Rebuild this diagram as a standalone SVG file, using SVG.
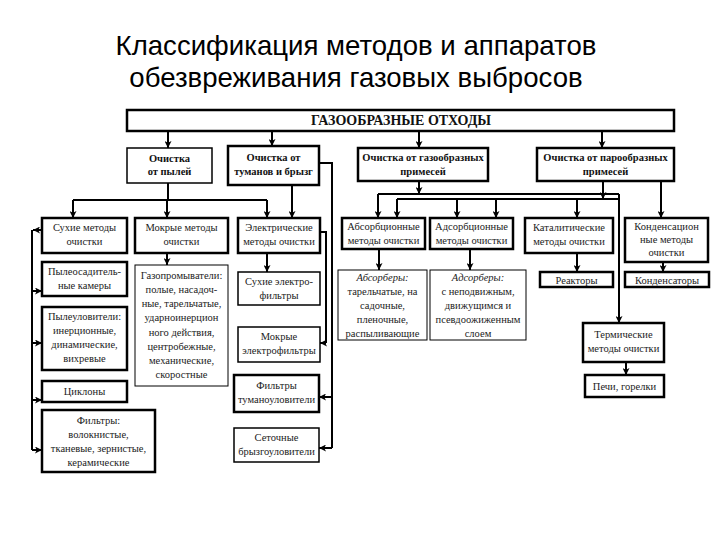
<svg xmlns="http://www.w3.org/2000/svg" width="720" height="540" viewBox="0 0 720 540">
<defs>
<marker id="ah" viewBox="0 0 8 8" refX="8" refY="4" markerWidth="7" markerHeight="7" markerUnits="userSpaceOnUse" orient="auto">
<path d="M0,0 L8,4 L0,8 L2,4 z" fill="#000"/>
</marker>
<style>
.title{font-family:"Liberation Sans",Arial,sans-serif;font-size:27.6px;fill:#000;text-anchor:middle}
.bx{fill:#fff;stroke:#000;stroke-width:2.5}
.bn{fill:#fff;stroke:#000;stroke-width:1.5}
.bt{fill:#fff;stroke:#000;stroke-width:1}
.t{font-family:"Liberation Serif","Times New Roman",serif;font-size:10.5px;fill:#222;text-anchor:middle}
.tb{font-family:"Liberation Serif","Times New Roman",serif;font-size:10.5px;font-weight:bold;fill:#111;text-anchor:middle}
.th{font-family:"Liberation Serif","Times New Roman",serif;font-size:14px;font-weight:bold;fill:#111;text-anchor:middle}
.it{font-style:italic}
.c{fill:none;stroke:#000;stroke-width:2}
.a{fill:none;stroke:#000;stroke-width:2;marker-end:url(#ah)}
</style>
</defs>
<rect width="720" height="540" fill="#fff"/>
<text class="title" x="356" y="55">Классификация методов и аппаратов</text>
<text class="title" x="356" y="87">обезвреживания газовых выбросов</text>

<g id="connectors">
<path class="a" d="M168,131 V148"/>
<path class="a" d="M272,131 V146"/>
<path class="a" d="M419,131 V148"/>
<path class="a" d="M602,131 V148"/>
<path class="c" d="M168,183 V200"/>
<path class="c" d="M73,200 H267" stroke-width="3"/>
<path class="a" d="M73,200 V218"/>
<path class="a" d="M167,200 V218"/>
<path class="a" d="M267,200 V218"/>
<path class="a" d="M292,185 V218"/>
<path class="c" d="M319,163 H332 V448"/>
<path class="a" d="M332,397 H319"/>
<path class="a" d="M332,448 H319"/>
<path class="c" d="M320,232 H326 V343"/>
<path class="a" d="M326,343 H320"/>
<path class="a" d="M167,253 V265"/>
<path class="a" d="M267,253 V272"/>
<path class="a" d="M42,230 H33"/>
<path class="c" d="M32,230 V450"/>
<path class="a" d="M32,291 H42"/>
<path class="a" d="M32,343 H42"/>
<path class="a" d="M32,400 H42"/>
<path class="a" d="M32,450 H42"/>
<path class="a" d="M419,181 V194"/>
<path class="c" d="M378,194 H619"/>
<path class="c" d="M397,199 H619"/>
<path class="a" d="M603,181 V199"/>
<path class="a" d="M619,194 V323"/>
<path class="a" d="M378,194 V218"/>
<path class="a" d="M397,199 V218"/>
<path class="a" d="M457,199 V218"/>
<path class="a" d="M496,199 V218"/>
<path class="a" d="M577,199 V218"/>
<path class="a" d="M661,181 V218"/>
<path class="a" d="M379,249 V270"/>
<path class="a" d="M470,249 V270"/>
<path class="a" d="M577,253 V272"/>
<path class="a" d="M663,262 V272"/>
<path class="a" d="M626,362 V375"/>
</g>

<g id="n-top"><rect class="bx" x="127" y="110" width="547" height="21" stroke-width="2"/><text class="th" x="401" y="125">ГАЗООБРАЗНЫЕ ОТХОДЫ</text></g>

<g id="n-dust"><rect class="bn" x="127" y="148" width="85" height="35"/><text class="tb" x="169.5" y="162">Очистка</text><text class="tb" x="169.5" y="175">от пылей</text></g>
<g id="n-fog"><rect class="bx" x="228" y="146" width="91" height="39"/><text class="tb" x="273.5" y="161">Очистка от</text><text class="tb" x="273.5" y="175">туманов и брызг</text></g>
<g id="n-gas"><rect class="bx" x="358" y="148" width="130" height="33"/><text class="tb" x="423" y="161">Очистка от газообразных</text><text class="tb" x="423" y="175">примесей</text></g>
<g id="n-vapor"><rect class="bx" x="537" y="148" width="137" height="33"/><text class="tb" x="605.5" y="161">Очистка от парообразных</text><text class="tb" x="605.5" y="175">примесей</text></g>

<g id="n-dry"><rect class="bx" x="42" y="218" width="85" height="35"/><text class="t" x="84.5" y="231">Сухие методы</text><text class="t" x="84.5" y="245">очистки</text></g>
<g id="n-wet"><rect class="bx" x="135" y="218" width="93" height="35"/><text class="t" x="181.5" y="231">Мокрые методы</text><text class="t" x="181.5" y="245">очистки</text></g>
<g id="n-el"><rect class="bx" x="238" y="218" width="82" height="35"/><text class="t" x="279" y="231">Электрические</text><text class="t" x="279" y="245">методы очистки</text></g>

<g id="n-chamb"><rect class="bx" x="42" y="262" width="85" height="34"/><text class="t" x="84.5" y="275">Пылеосадитель-</text><text class="t" x="84.5" y="289">ные камеры</text></g>
<g id="n-catch"><rect class="bx" x="42" y="307" width="85" height="63"/><text class="t" x="84.5" y="320">Пылеуловители:</text><text class="t" x="84.5" y="334">инерционные,</text><text class="t" x="84.5" y="348">динамические,</text><text class="t" x="84.5" y="362">вихревые</text></g>
<g id="n-cycl"><rect class="bx" x="42" y="381" width="85" height="21"/><text class="t" x="84.5" y="395">Циклоны</text></g>
<g id="n-filt"><rect class="bx" x="42" y="410" width="113" height="62"/><text class="t" x="98.5" y="424">Фильтры:</text><text class="t" x="98.5" y="438">волокнистые,</text><text class="t" x="98.5" y="452">тканевые, зернистые,</text><text class="t" x="98.5" y="466">керамические</text></g>

<g id="n-scrub"><rect class="bt" x="135" y="265" width="93" height="121"/>
<text class="t" x="181.5" y="279">Газопромыватели:</text>
<text class="t" x="181.5" y="293">полые, насадоч-</text>
<text class="t" x="181.5" y="307">ные, тарельчатые,</text>
<text class="t" x="181.5" y="321">ударноинерцион</text>
<text class="t" x="181.5" y="336">ного действия,</text>
<text class="t" x="181.5" y="350">центробежные,</text>
<text class="t" x="181.5" y="364">механические,</text>
<text class="t" x="181.5" y="378">скоростные</text></g>

<g id="n-dryel"><rect class="bn" x="238" y="272" width="82" height="33"/><text class="t" x="279" y="285">Сухие электро-</text><text class="t" x="279" y="299">фильтры</text></g>
<g id="n-wetel"><rect class="bn" x="238" y="327" width="82" height="35"/><text class="t" x="279" y="340">Мокрые</text><text class="t" x="279" y="354">электрофильтры</text></g>
<g id="n-mist"><rect class="bx" x="234" y="375" width="85" height="37"/><text class="t" x="276.5" y="389">Фильтры</text><text class="t" x="276.5" y="403">туманоуловители</text></g>
<g id="n-mesh"><rect class="bn" x="234" y="428" width="85" height="34"/><text class="t" x="276.5" y="441">Сеточные</text><text class="t" x="276.5" y="455">брызгоуловители</text></g>

<g id="n-absm"><rect class="bx" x="342" y="218" width="83" height="31"/><text class="t" x="383.5" y="230">Абсорбционные</text><text class="t" x="383.5" y="244">методы очистки</text></g>
<g id="n-adsm"><rect class="bx" x="430" y="218" width="83" height="31"/><text class="t" x="471.5" y="230">Адсорбционные</text><text class="t" x="471.5" y="244">методы очистки</text></g>
<g id="n-cat"><rect class="bx" x="525" y="218" width="88" height="35"/><text class="t" x="569" y="231">Каталитические</text><text class="t" x="569" y="245">методы очистки</text></g>
<g id="n-cond"><rect class="bx" x="625" y="218" width="83" height="44"/><text class="t" x="666.5" y="230">Конденсацион</text><text class="t" x="666.5" y="243">ные методы</text><text class="t" x="666.5" y="256">очистки</text></g>

<g id="n-absr"><rect class="bt" x="338" y="270" width="89" height="70"/><text class="t it" x="382.5" y="281">Абсорберы:</text><text class="t" x="382.5" y="295">тарельчатые, на</text><text class="t" x="382.5" y="309">садочные,</text><text class="t" x="382.5" y="323">пленочные,</text><text class="t" x="382.5" y="337">распыливающие</text></g>
<g id="n-adsr"><rect class="bt" x="430" y="270" width="96" height="70"/><text class="t it" x="478" y="281">Адсорберы:</text><text class="t" x="478" y="295">с неподвижным,</text><text class="t" x="478" y="309">движущимся и</text><text class="t" x="478" y="323">псевдоожиженным</text><text class="t" x="478" y="337">слоем</text></g>
<g id="n-react"><rect class="bx" x="540" y="272" width="73" height="15"/><text class="t" x="576.5" y="283.5">Реакторы</text></g>
<g id="n-condr"><rect class="bx" x="625" y="272" width="84" height="15"/><text class="t" x="667" y="283.5">Конденсаторы</text></g>
<g id="n-therm"><rect class="bx" x="583" y="323" width="81" height="39"/><text class="t" x="623.5" y="338">Термические</text><text class="t" x="623.5" y="352">методы очистки</text></g>
<g id="n-furn"><rect class="bx" x="585" y="375" width="79" height="22"/><text class="t" x="624.5" y="390">Печи, горелки</text></g>
</svg>
